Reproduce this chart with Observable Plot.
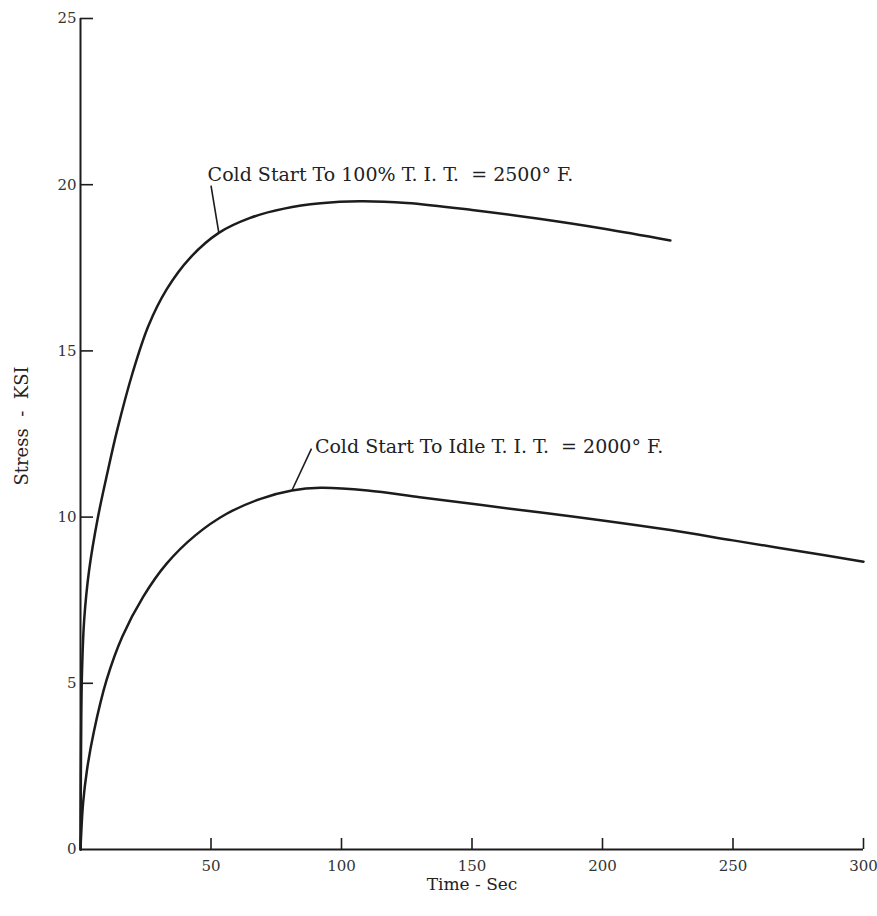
<!DOCTYPE html>
<html>
<head>
<meta charset="utf-8">
<script src="https://cdn.jsdelivr.net/npm/d3@7"></script>
<script src="https://cdn.jsdelivr.net/npm/@observablehq/plot@0.6"></script>
<style>
  html, body { margin: 0; padding: 0; background: #fff; }
  #chart svg { display: block; }
</style>
</head>
<body>
<div id="chart"></div>
<script>
// Cold start to 100% T.I.T. (2500 °F): time (s) and stress (KSI)
const fullTime   = [0, 0.3, 0.6, 1.4, 3.3, 6.7, 10.5, 14, 20, 26, 33, 42, 53, 65, 78, 92, 107, 125, 150, 175, 200, 226];
const fullStress = [0, 4.0, 5.4, 6.9, 8.4, 10.0, 11.4, 12.6, 14.35, 15.75, 16.85, 17.8, 18.55, 19.0, 19.28, 19.44, 19.5, 19.45, 19.24, 18.98, 18.68, 18.32];

// Cold start to idle T.I.T. (2000 °F)
const idleTime   = [0, 1, 2.5, 5, 10, 16, 24, 33, 44, 56, 69, 81, 92, 110, 130, 153, 178, 200, 226, 250, 275, 300];
const idleStress = [0, 1.4, 2.4, 3.5, 5.1, 6.4, 7.6, 8.6, 9.45, 10.1, 10.55, 10.8, 10.88, 10.8, 10.6, 10.37, 10.12, 9.9, 9.61, 9.3, 8.98, 8.66];

// Axis ticks
const xTicks = [50, 100, 150, 200, 250, 300];
const yTicks = [0, 5, 10, 15, 20, 25];

// Curve labels with their leader lines
const labelText   = ["Cold Start To 100% T. I. T.\u00a0 = 2500° F.", "Cold Start To Idle T. I. T.\u00a0 = 2000° F."];
const labelTime   = [48.7, 89.8];
const labelStress = [20.3, 12.1];
const leaderTime1   = [50, 88.5];
const leaderStress1 = [19.97, 12.06];
const leaderTime2   = [53, 81];
const leaderStress2 = [18.55, 10.8];

const xTitle = "Time - Sec";
const yTitle = "Stress\u00a0 -\u00a0 KSI";

const W = 877, H = 916;
const mL = 80, mR = 14, mT = 18, mB = 67;
const plotW = W - mL - mR, plotH = H - mT - mB;
const ink = "#1c1c1c";

const full = fullTime.map((t, i) => ({t, s: fullStress[i]}));
const idle = idleTime.map((t, i) => ({t, s: idleStress[i]}));
const labels = labelText.map((text, i) => ({text, t: labelTime[i], s: labelStress[i]}));
const leaders = leaderTime1.map((t, i) => ({t1: t, s1: leaderStress1[i], t2: leaderTime2[i], s2: leaderStress2[i]}));

const chart = Plot.plot({
  width: W,
  height: H,
  marginLeft: mL,
  marginRight: mR,
  marginTop: mT,
  marginBottom: mB,
  x: {domain: [0, 300]},
  y: {domain: [0, 25]},
  style: {fontFamily: "'DejaVu Serif', serif", fontSize: "15px", color: "#333", background: "#fff"},
  marks: [
    Plot.axisX(xTicks, {tickSize: 0, tickPadding: 11, label: null, fontSize: 15, fill: "#333"}),
    Plot.axisY(yTicks, {tickSize: 0, tickPadding: 4, label: null, fontSize: 15, fill: "#333"}),
    // inward tick marks
    Plot.tickX(xTicks, {x: d => d, insetTop: plotH - 11, stroke: ink, strokeWidth: 1.6}),
    Plot.tickY(yTicks.filter(d => d > 0), {y: d => d, insetRight: plotW - 13, stroke: ink, strokeWidth: 1.6}),
    // axis lines
    Plot.ruleX([0], {stroke: ink, strokeWidth: 2}),
    Plot.ruleY([0], {stroke: ink, strokeWidth: 2}),
    // stress curves
    Plot.line(full, {x: "t", y: "s", curve: "catmull-rom", stroke: ink, strokeWidth: 2.5}),
    Plot.line(idle, {x: "t", y: "s", curve: "catmull-rom", stroke: ink, strokeWidth: 2.5}),
    // leader lines and labels
    Plot.link(leaders, {x1: "t1", y1: "s1", x2: "t2", y2: "s2", stroke: ink, strokeWidth: 1.6}),
    Plot.text(labels, {x: "t", y: "s", text: "text", textAnchor: "start", lineAnchor: "middle", fontSize: 19, fill: "#222"}),
    // axis titles
    Plot.text([xTitle], {frameAnchor: "bottom", textAnchor: "middle", lineAnchor: "middle", dy: 35, text: d => d, fontSize: 17, fill: "#222"}),
    Plot.text([yTitle], {frameAnchor: "left", textAnchor: "middle", lineAnchor: "middle", dx: -58, dy: -8, rotate: -90, text: d => d, fontSize: 18, fill: "#222"})
  ]
});

document.getElementById("chart").append(chart);
</script>
</body>
</html>
